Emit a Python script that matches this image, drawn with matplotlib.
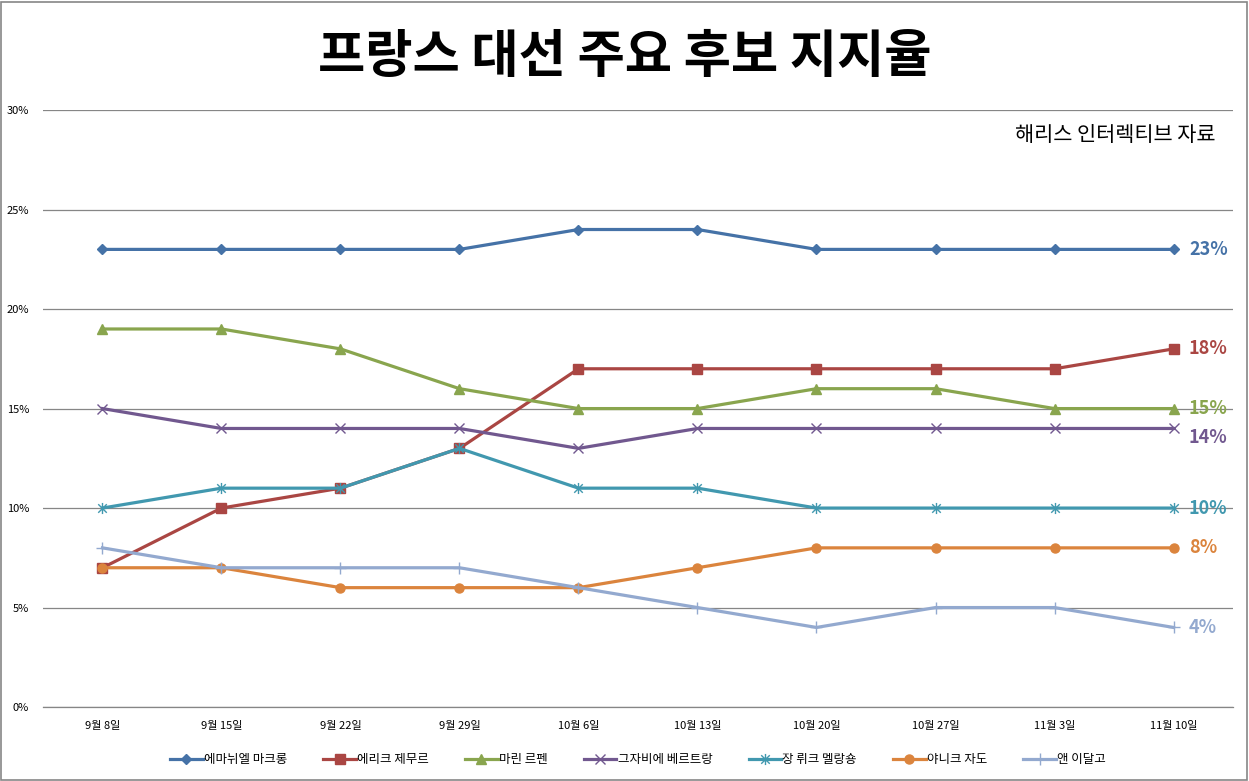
import matplotlib
matplotlib.use("Agg")
import matplotlib.pyplot as plt
from matplotlib.patches import Rectangle
from matplotlib.path import Path
from matplotlib.ticker import FuncFormatter

plt.rcParams['font.family'] = ['Noto Sans CJK KR', 'DejaVu Sans']

dates = ["9월 8일", "9월 15일", "9월 22일", "9월 29일", "10월 6일",
         "10월 13일", "10월 20일", "10월 27일", "11월 3일", "11월 10일"]

macron = [23, 23, 23, 23, 24, 24, 23, 23, 23, 23]
zemmour = [7, 10, 11, 13, 17, 17, 17, 17, 17, 18]
lepen = [19, 19, 18, 16, 15, 15, 16, 16, 15, 15]
pecresse = [15, 14, 14, 14, 13, 14, 14, 14, 14, 14]
melenchon = [10, 11, 11, 13, 11, 11, 10, 10, 10, 10]
jadot = [7, 7, 6, 6, 6, 7, 8, 8, 8, 8]
hidalgo = [8, 7, 7, 7, 6, 5, 4, 5, 5, 4]

names = ["에마뉘엘 마크롱", "에리크 제무르", "마린 르펜", "그자비에 베르트랑",
         "장 뤼크 멜랑숑", "야니크 자도", "앤 이달고"]
series = [macron, zemmour, lepen, pecresse, melenchon, jadot, hidalgo]
colors = ["#4572A7", "#AA4643", "#89A54E", "#71588F", "#4198AF", "#DB843D", "#93A9CF"]

# excel-style star: an x with a vertical stroke
star = Path([(-1, -1), (1, 1), (-1, 1), (1, -1), (0, -1.3), (0, 1.3)],
            [Path.MOVETO, Path.LINETO, Path.MOVETO, Path.LINETO, Path.MOVETO, Path.LINETO])
markers = ["D", "s", "^", "x", star, "o", "+"]
msizes = [5, 6.5, 7, 7.5, 8, 6.5, 8]
# small vertical nudges for end labels (in percent points)
label_dy = [0, 0, 0, -0.45, 0, 0, 0]

fig = plt.figure(figsize=(12.49, 7.81), dpi=100)
ax = fig.add_axes([0.0344, 0.0947, 0.9528, 0.7643])

x = list(range(len(dates)))
for vals, name, c, m, ms, dy in zip(series, names, colors, markers, msizes, label_dy):
    ax.plot(x, vals, color=c, lw=2.3, marker=m, markersize=ms,
            markeredgewidth=1.0, label=name, zorder=3)
    ax.text(x[-1] + 0.13, vals[-1] + dy, f"{vals[-1]}%", color=c,
            fontsize=13, fontweight='bold', va='center', ha='left', zorder=4)

ax.set_xlim(-0.5, len(dates) - 0.5)
ax.set_ylim(0, 30)
ax.set_yticks(range(0, 31, 5))
ax.yaxis.set_major_formatter(FuncFormatter(lambda v, p: f"{int(v)}%"))
ax.set_xticks(x)
ax.set_xticklabels(dates)
ax.tick_params(axis='both', length=0, labelsize=8)
ax.tick_params(axis='y', pad=10)
ax.tick_params(axis='x', pad=10)
ax.grid(axis='y', color='#868686', lw=0.9)
ax.set_axisbelow(True)
for s in ax.spines.values():
    s.set_visible(False)
ax.spines['bottom'].set_visible(True)
ax.spines['bottom'].set_color('#868686')
ax.spines['bottom'].set_linewidth(0.9)

fig.text(0.5, 0.928, "프랑스 대선 주요 후보 지지율", ha='center', va='center',
         fontsize=37, fontweight='bold')
ax.text(0.985, 0.958, "해리스 인터렉티브 자료", transform=ax.transAxes,
        ha='right', va='center', fontsize=15, fontweight='medium')

ax.legend(loc='upper center', bbox_to_anchor=(0.5, -0.058), ncol=7,
          frameon=False, fontsize=9, handlelength=2.6, columnspacing=2.9,
          handletextpad=0.1)

fig.patches.append(Rectangle((0.001, 0.001), 0.997, 0.997, transform=fig.transFigure,
                             fill=False, edgecolor='#868686', lw=1.2))

fig.savefig("out.png", dpi=100)
